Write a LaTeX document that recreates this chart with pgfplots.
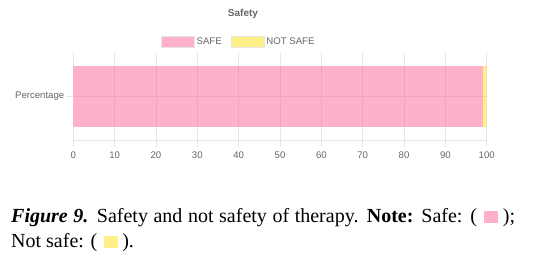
\documentclass[border=0pt]{standalone}
\usepackage{pgfplots}
\pgfplotsset{compat=1.18}
\usepackage{fontspec}
\setmainfont{Liberation Serif}
\newfontfamily\arial{Liberation Sans}
\definecolor{gridgray}{RGB}{230,230,230}
\definecolor{tickgray}{RGB}{102,102,102}
\definecolor{pinkbase}{RGB}{255,99,149}
\definecolor{yellowbase}{RGB}{255,225,21}
\definecolor{pinkfill}{RGB}{255,177,202}
\definecolor{yellowfill}{RGB}{255,240,138}
\begin{document}
\begin{tikzpicture}
\useasboundingbox (0,0) rectangle (546pt,253pt);
\node[font=\arial\bfseries\fontsize{10}{12}\selectfont, text=tickgray] at (243pt,239pt) {Safety};
\begin{axis}[
  at={(73.3pt,113pt)}, anchor=south west,
  scale only axis, width=413.4pt, height=87pt,
  xbar stacked,
  xmin=0, xmax=100, ymin=0, ymax=1,
  bar width=0.7,
  ytick={0.5}, yticklabels={Percentage},
  xtick={0,10,...,100},
  axis x line*=bottom, axis y line*=left,
  axis line style={draw=gridgray, line width=0.8pt},
  grid=major,
  major grid style={draw=gridgray, line width=0.8pt},
  tick align=outside,
  major tick length=7pt,
  tick style={draw=gridgray, line width=0.8pt},
  xtick pos=bottom, ytick pos=left,
  /pgf/number format/assume math mode=true,
  ticklabel style={font=\arial\fontsize{9.6}{11}\selectfont, text=tickgray},
  xticklabel style={yshift=-1pt},
  yticklabel style={xshift=1.5pt},
  legend style={at={(0.4,1.132)}, anchor=center, draw=none, fill=none,
    font=\arial\fontsize{9.6}{11}\selectfont, text=tickgray,
    /tikz/every even column/.append style={column sep=7pt},
    legend cell align=left},
  legend columns=2,
]
\addplot[draw=none, fill=pinkbase, fill opacity=0.5, forget plot] coordinates {(99.2,0.5)};
\addplot[draw=none, fill=yellowbase, fill opacity=0.5, forget plot] coordinates {(0.8,0.5)};
\addlegendimage{legend image code/.code={
    \fill[pinkfill] (0pt,-5.5pt) rectangle (33pt,5.5pt);
    \draw[gridgray, line width=0.8pt] (0pt,-5.5pt) rectangle (33pt,5.5pt);}}
\addlegendentry{SAFE}
\addlegendimage{legend image code/.code={
    \fill[yellowfill] (0pt,-5.5pt) rectangle (33pt,5.5pt);
    \draw[gridgray, line width=0.8pt] (0pt,-5.5pt) rectangle (33pt,5.5pt);}}
\addlegendentry{NOT SAFE}
\end{axis}
\node[anchor=base west, inner sep=0pt] at (11pt,30pt) {\fontsize{20}{22}\selectfont\makebox[504pt][s]{\textbf{\textit{Figure 9.}} Safety and not safety of therapy. \textbf{Note:} Safe: (\hspace{7pt}\textcolor{pinkfill}{\rule[-0.5pt]{14pt}{12pt}}\hspace{5pt});}};
\node[anchor=base west, inner sep=0pt] at (11pt,5pt) {\fontsize{20}{22}\selectfont Not safe: (\hspace{7pt}\textcolor{yellowfill}{\rule[-0.5pt]{14pt}{12pt}}\hspace{4pt}).};
\end{tikzpicture}
\end{document}
